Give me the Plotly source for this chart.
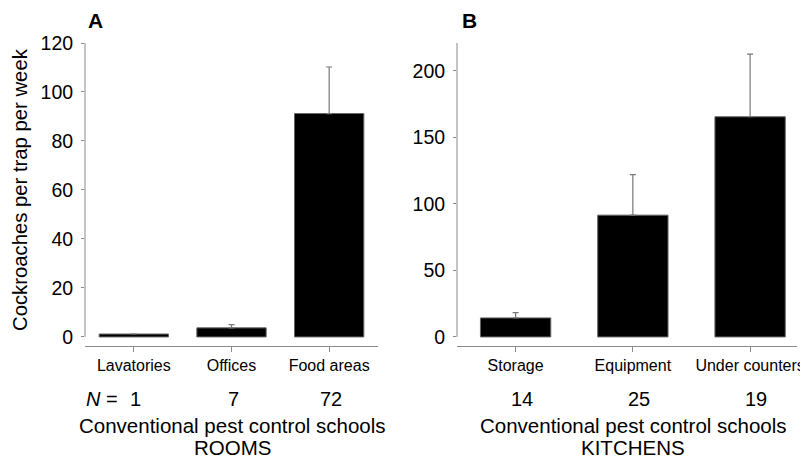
import plotly.graph_objects as go

# Panel A - rooms
rooms = ["Lavatories", "Offices", "Food areas"]
rooms_mean = [1.2, 3.7, 91.2]
rooms_err = [0.0, 1.3, 19.0]
rooms_n = ["1", "7", "72"]

# Panel B - kitchens
kitchens = ["Storage", "Equipment", "Under counters"]
kitchens_mean = [14.3, 91.5, 165.4]
kitchens_err = [4.0, 30.5, 47.0]
kitchens_n = ["14", "25", "19"]

yticks_a = [0, 20, 40, 60, 80, 100, 120]
yticks_b = [0, 50, 100, 150, 200]

W, H = 808, 461
O = 8  # default page body margin offset
FONT = "Liberation Sans, Arial, Helvetica, sans-serif"
AX = "#8a8a8a"


def px(p):
    return (p - O) / W


def py(p):
    return 1 - (p - O) / H


fig = go.Figure()
fig.add_trace(go.Bar(
    x=rooms, y=rooms_mean, width=0.71,
    marker=dict(color="black", line=dict(color="#666", width=1)),
    error_y=dict(type="data", symmetric=False, array=rooms_err,
                 arrayminus=[0] * len(rooms_err), color="#777", thickness=1.2, width=3),
    xaxis="x", yaxis="y", showlegend=False))
fig.add_trace(go.Bar(
    x=kitchens, y=kitchens_mean, width=0.6,
    marker=dict(color="black", line=dict(color="#666", width=1)),
    error_y=dict(type="data", symmetric=False, array=kitchens_err,
                 arrayminus=[0] * len(kitchens_err), color="#777", thickness=1.2, width=3),
    xaxis="x2", yaxis="y2", showlegend=False))

ydom = [py(346), py(43)]
common_x = dict(showline=True, linecolor=AX, linewidth=1, ticks="outside", ticklen=5,
                tickcolor=AX, tickfont=dict(family=FONT, size=16, color="black"),
                showgrid=False, zeroline=False, fixedrange=True, automargin=False)
common_y = dict(showline=False, ticks="outside", ticklen=3, tickcolor=AX,
                tickfont=dict(family=FONT, size=19.5, color="black"), ticklabelstandoff=4,
                showgrid=False, zeroline=False, fixedrange=True, automargin=False)

fig.update_layout(
    width=W, height=H, margin=dict(l=0, r=0, t=0, b=0, autoexpand=False),
    paper_bgcolor="white", plot_bgcolor="white", bargap=0.3,
    font=dict(family=FONT, color="black"),
    xaxis=dict(domain=[px(85), px(378)], range=[-0.5, 2.5], anchor="y", **common_x),
    yaxis=dict(domain=ydom, range=[-3.7, 120], tickvals=yticks_a, anchor="x", **common_y),
    xaxis2=dict(domain=[px(457), px(797)], range=[-0.5, 2.4], anchor="y2", **common_x),
    yaxis2=dict(domain=ydom, range=[-6.8, 220.8], tickvals=yticks_b, anchor="x2", **common_y),
)

# y-axis lines from 0 to top (offset from the x-axis line)
fig.add_shape(type="line", xref="x domain", yref="y", x0=0, x1=0, y0=0, y1=120,
              line=dict(color=AX, width=1))
fig.add_shape(type="line", xref="x2 domain", yref="y2", x0=0, x1=0, y0=0, y1=220.8,
              line=dict(color=AX, width=1))


def ann(x, y, text, size, xref="paper", bold=False, xanchor="center", yanchor="middle", **kw):
    fig.add_annotation(x=x, y=y, xref=xref, yref="paper", text=("<b>%s</b>" % text) if bold else text,
                       showarrow=False, xanchor=xanchor, yanchor=yanchor,
                       font=dict(family=FONT, size=size, color="black"), **kw)


ann(px(87), 1.0, "A", 21, bold=True, xanchor="left", yanchor="top", borderpad=0)
ann(px(461), 1.0, "B", 21, bold=True, xanchor="left", yanchor="top", borderpad=0)

fig.add_annotation(x=0.0, y=py(190), xref="paper", yref="paper",
                   xanchor="left", yanchor="middle", borderpad=0,
                   text="Cockroaches per trap per week", textangle=-90, showarrow=False,
                   font=dict(family=FONT, size=20.3, color="black"))

nrow = py(399)
ann(px(84), nrow, "<i>N</i> =", 20, xanchor="left")
for c, n in zip(rooms, rooms_n):
    ann(c, nrow, n, 20, xref="x", xshift=2)
for c, n in zip(kitchens, kitchens_n):
    ann(c, nrow, n, 20, xref="x2", xshift=6)

ann(px(232), py(425), "Conventional pest control schools", 20.5)
ann(px(232), py(447), "ROOMS", 20.5)
ann(px(633), py(425), "Conventional pest control schools", 20.5)
ann(px(633), py(447), "KITCHENS", 20.5)

fig.write_html("out.html")
